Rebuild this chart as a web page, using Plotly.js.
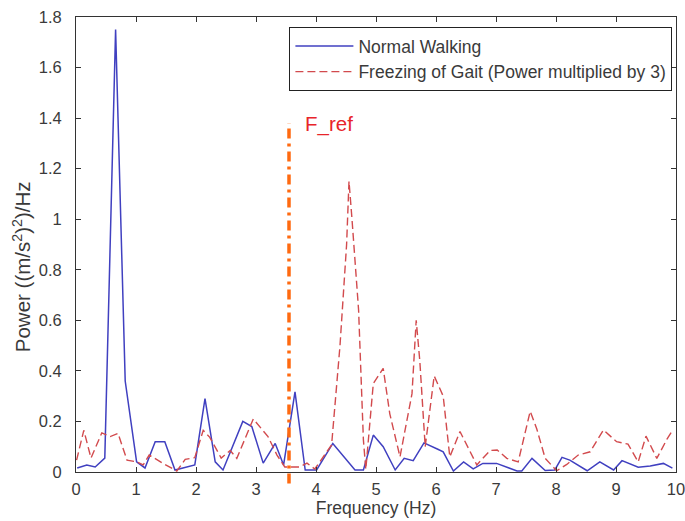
<!DOCTYPE html>
<html>
<head>
<meta charset="utf-8">
<script src="https://cdn.plot.ly/plotly-3.0.1.min.js"></script>
<style>html,body{margin:0;padding:0;background:#fff;}#chart{width:685px;height:521px;}</style>
</head>
<body>
<div id="chart"></div>
<script>
// Normal walking spectrum (vertices)
const walkFreq = [0.02,0.18,0.32,0.48,0.66,0.82,1.01,1.15,1.32,1.48,1.65,1.98,2.15,2.32,2.45,2.78,2.93,3.12,3.32,3.46,3.65,3.82,4.01,4.28,4.65,4.79,4.955,5.12,5.32,5.47,5.62,5.8,6.03,6.12,6.29,6.46,6.62,6.78,7.01,7.35,7.43,7.6,7.82,7.98,8.1,8.23,8.52,8.73,8.96,9.1,9.37,9.57,9.79,9.94];
const walkPower = [0.016,0.028,0.02,0.055,1.75,0.36,0.04,0.016,0.12,0.12,0.008,0.028,0.29,0.04,0.008,0.2,0.18,0.035,0.113,0.028,0.317,0.008,0.008,0.113,0.008,0.008,0.146,0.1,0.008,0.054,0.045,0.115,0.09,0.08,0.004,0.04,0.012,0.034,0.034,0.004,0.004,0.054,0.006,0.008,0.058,0.047,0.005,0.04,0.008,0.045,0.019,0.024,0.034,0.015];

// Freezing of gait spectrum (power x3)
const fogFreq = [0.01,0.13,0.25,0.43,0.57,0.70,0.85,1.01,1.12,1.22,1.48,1.68,1.82,1.98,2.12,2.23,2.42,2.57,2.68,2.955,3.2,3.35,3.48,3.73,3.85,3.98,4.26,4.4,4.51,4.55,4.6,4.71,4.79,4.83,4.955,5.12,5.23,5.4,5.6,5.67,5.73,5.82,5.97,6.12,6.23,6.4,6.68,6.9,7.02,7.18,7.37,7.57,7.68,7.82,8.01,8.18,8.37,8.57,8.79,9.01,9.2,9.37,9.5,9.68,9.85,9.93];
const fogPower = [0.047,0.165,0.055,0.155,0.14,0.153,0.047,0.04,0.028,0.067,0.03,0.004,0.05,0.057,0.165,0.137,0.055,0.085,0.054,0.21,0.14,0.067,0.02,0.02,0.035,0.012,0.107,0.5,0.9,1.15,1.0,0.64,0.127,0.01,0.35,0.41,0.23,0.06,0.31,0.6,0.44,0.1,0.38,0.3,0.06,0.16,0.028,0.085,0.087,0.054,0.04,0.24,0.17,0.054,0.005,0.03,0.067,0.08,0.166,0.12,0.11,0.04,0.142,0.054,0.13,0.16];

const seriesNames = ['Normal Walking', 'Freezing of Gait (Power multiplied by 3)'];
const F_REF = 3.55;        // reference frequency (Hz)
const F_REF_TOP = 1.38;    // top of marker line
const X_RANGE = [0, 10];
const Y_RANGE = [0, 1.8];
const xTicks = [0,1,2,3,4,5,6,7,8,9,10];
const yTicks = [0,0.2,0.4,0.6,0.8,1,1.2,1.4,1.6,1.8];
const xTitle = 'Frequency (Hz)';
const yTitle = 'Power ((m/s<sup>2</sup>)<sup>2</sup>)/Hz';

const FONT = 'Liberation Sans, Arial, sans-serif';
const TXT = '#3a3a3a';

const traces = [
  {x: walkFreq, y: walkPower, name: seriesNames[0], type: 'scatter', mode: 'lines',
   line: {color: '#4040c0', width: 1.5}},
  {x: fogFreq, y: fogPower, name: seriesNames[1], type: 'scatter', mode: 'lines',
   line: {color: '#d24a4d', width: 1.4, dash: '8px,4px'}}
];

const axisCommon = {
  showline: true, mirror: 'allticks', linecolor: '#333', linewidth: 1,
  ticks: 'inside', ticklen: 5, tickcolor: '#333', showgrid: false, zeroline: false,
  ticklabeloverflow: 'allow',
  tickfont: {family: FONT, size: 16.5, color: TXT}
};

const layout = {
  width: 685, height: 521,
  margin: {l: 76, r: 9, t: 17, b: 49},
  paper_bgcolor: '#fff', plot_bgcolor: '#fff',
  font: {family: FONT, color: TXT},
  showlegend: true,
  legend: {x: 0.994, y: 0.978, xanchor: 'right', yanchor: 'top',
    bgcolor: '#fff', bordercolor: '#222', borderwidth: 1, itemwidth: 58,
    font: {family: FONT, size: 17.5, color: TXT}, tracegroupgap: 0},
  xaxis: Object.assign({}, axisCommon, {range: X_RANGE, tickvals: xTicks, ticktext: xTicks.map(String),
    ticklabelstandoff: 2,
    title: {text: xTitle, font: {family: FONT, size: 17.5, color: TXT}, standoff: 1}}),
  yaxis: Object.assign({}, axisCommon, {range: Y_RANGE, tickvals: yTicks, ticktext: yTicks.map(String),
    ticklabelstandoff: 10}),
  shapes: [{type: 'line', xref: 'x', yref: 'paper', x0: F_REF, x1: F_REF,
    y0: -0.025, y1: F_REF_TOP / Y_RANGE[1],
    line: {color: '#ff6a10', width: 3.5, dash: '10px,5px,3px,5px'}, layer: 'above'}],
  annotations: [
    {xref: 'x', yref: 'y', x: F_REF, y: F_REF_TOP, text: 'F_ref', showarrow: false,
     xanchor: 'left', yanchor: 'middle', xshift: 14, yshift: -1,
     font: {family: FONT, size: 20.5, color: '#e8242a'}},
    {xref: 'paper', yref: 'paper', x: -0.09, y: 0.45, text: yTitle, showarrow: false,
     textangle: -90, xanchor: 'center', yanchor: 'middle',
     font: {family: FONT, size: 20.5, color: TXT}}
  ]
};

Plotly.newPlot('chart', traces, layout, {displayModeBar: false, staticPlot: true});
</script>
</body>
</html>
